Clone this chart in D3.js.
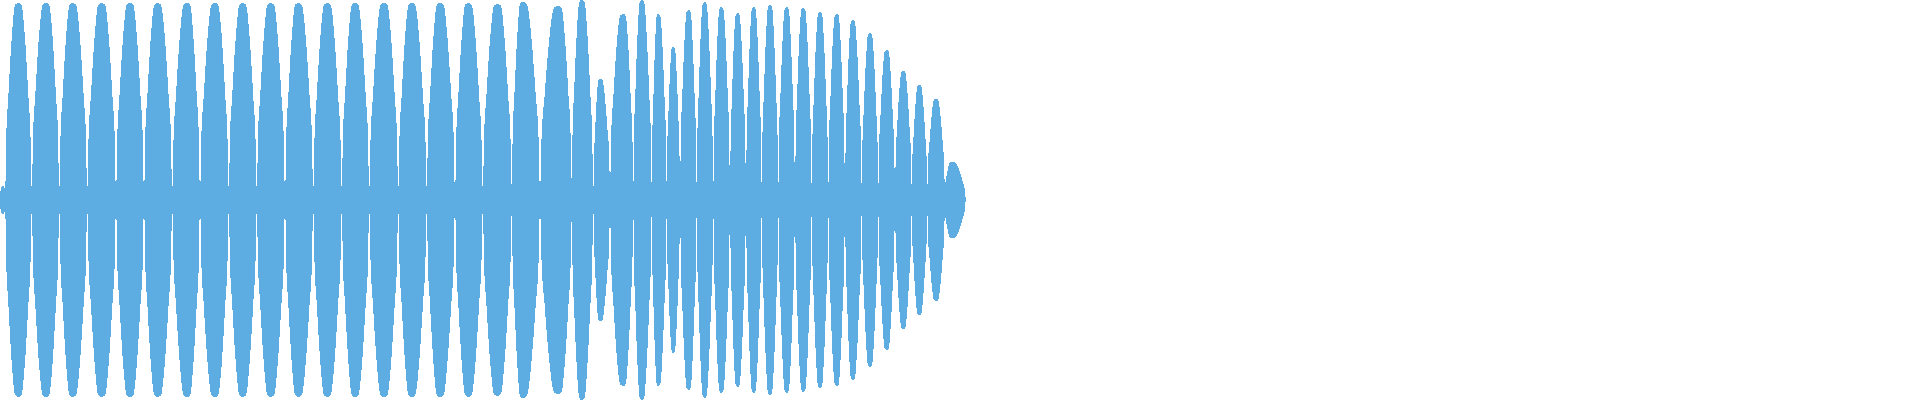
<!DOCTYPE html>
<html>
<head>
    <meta charset="utf-8">
    <style>
        html, body { margin: 0; padding: 0; background: #fff; }
        svg { display: block; }
        .lobe { fill: #5dade2; stroke: none; shape-rendering: crispEdges; }
    </style>
    <script src="https://d3js.org/d3.v7.min.js"></script>
</head>
<body>
    <script>
        // waveform envelope (time in frames, amplitude normalised -1..1)
        const duration = 1920;

        // frame where each beat starts/ends (shared between neighbours)
        const valleyTime = [0, 5, 31.7, 59.3, 87.3, 116, 144, 172.3, 200, 228.7, 256.7, 285, 313.3,
            341.7, 369.3, 398.3, 426.7, 455, 482.7, 511.7, 540, 571.7, 593.3, 610, 633.3, 651.7,
            666.7, 680, 696.7, 713.3, 730, 746, 761.7, 778.3, 795, 811.7, 828.3, 845, 861.7, 878.3,
            895, 911.7, 927.3, 945, 966];
        const valleyAmp = [0.025, 0.05, 0.06, 0.06, 0.06, 0.06, 0.06, 0.06, 0.06, 0.06, 0.06, 0.06, 0.06,
            0.06, 0.06, 0.06, 0.06, 0.06, 0.06, 0.07, 0.07, 0.1, 0.05, 0.1, 0.075, 0.075,
            0.08, 0.07, 0.07, 0.07, 0.07, 0.07, 0.07, 0.07, 0.07, 0.07, 0.07, 0.07, 0.07, 0.07,
            0.07, 0.07, 0.07, 0.06, 0.005];

        // peak of every beat
        const peakTime = [2.5, 18.3, 46, 72.7, 101.7, 130, 157.5, 187, 215, 242.7, 270.7, 298.3, 327.3,
            355, 384, 411.7, 440, 468.3, 497.5, 522.7, 558.3, 581.7, 600, 623.3, 641.7, 658.3, 673.3,
            688.7, 704.5, 721.3, 737.5, 753.7, 770, 786.7, 803.3, 820, 836.7, 852.7, 870, 886.7,
            903.3, 919.3, 936, 951.7];
        const peakAmp = [0.07, 0.985, 0.985, 0.985, 0.985, 0.985, 0.985, 0.985, 0.985, 0.985, 0.985, 0.985, 0.985,
            0.985, 0.985, 0.985, 0.985, 0.985, 0.98, 0.99, 0.97, 1.0, 0.605, 0.93, 1.0, 0.93, 0.765,
            0.95, 0.99, 0.965, 0.935, 0.965, 0.975, 0.965, 0.96, 0.94, 0.93, 0.9, 0.835, 0.75,
            0.645, 0.575, 0.505, 0.19];

        // measured shape of one beat: distance from peak (0) to valley (1) vs share of the peak
        const profileDist = [0, 0.24, 0.47, 0.75, 0.92, 0.96, 1];
        const profileAmp = [1, 0.99, 0.84, 0.5, 0.25, 0.05, 0];

        const width = 1920,
            height = 400;

        const x = d3.scaleLinear()
            .domain([0, duration])
            .range([0, width]);

        const y = d3.scaleLinear()
            .domain([-1, 1])
            .range([height, 0]);

        const lobes = peakTime.map((tp, i) => {
            const tl = valleyTime[i], tr = valleyTime[i + 1],
                al = valleyAmp[i], ar = valleyAmp[i + 1],
                ap = peakAmp[i];
            const left = profileDist.map((d, k) => ({
                t: tp - d * (tp - tl),
                a: al + (ap - al) * profileAmp[k]
            })).reverse();
            const right = profileDist.slice(1).map((d, k) => ({
                t: tp + d * (tr - tp),
                a: ar + (ap - ar) * profileAmp[k + 1]
            }));
            return left.concat(right);
        });

        // mirrored envelope, min below and max above the centre line
        const area = d3.area()
            .x(d => x(d.t))
            .y0(d => y(-d.a))
            .y1(d => y(d.a))
            .curve(d3.curveMonotoneX);

        const svg = d3.select('body').append('svg')
            .attr('width', width)
            .attr('height', height);

        svg.append('g')
            .selectAll('path')
            .data(lobes)
            .join('path')
            .attr('class', 'lobe')
            .attr('d', area);
    </script>
</body>
</html>
